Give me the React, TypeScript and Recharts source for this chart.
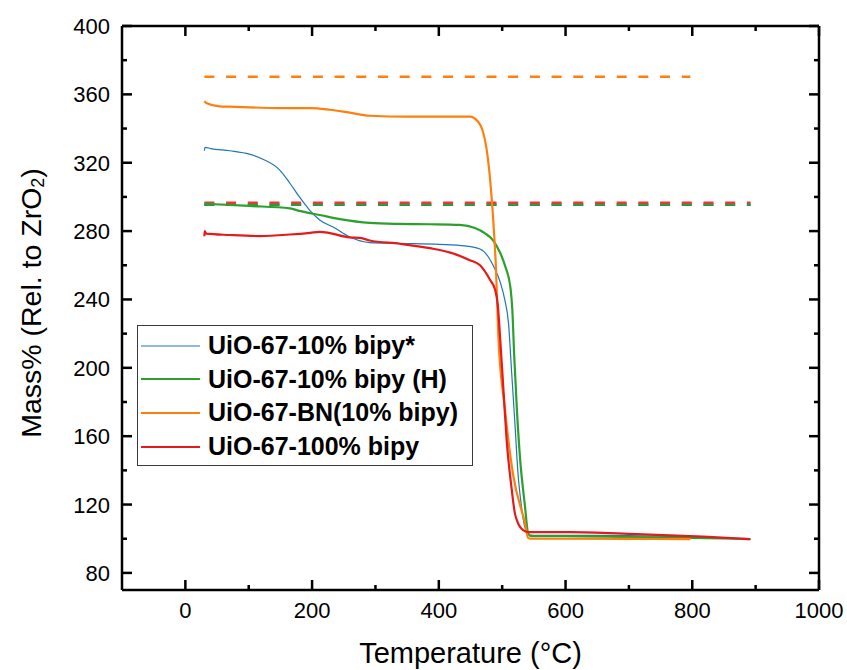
import React from "react"
import { LineChart, Line, XAxis, YAxis, Legend } from "recharts"

// temperature (°C) and mass (% rel. to ZrO2)
const TEMP_BIPY_STAR = [30, 31, 40, 70, 101, 125, 149, 165, 180, 196, 212, 236, 259, 291, 338, 401, 441, 465, 478, 487, 497, 504, 510, 515, 520, 525, 530, 535, 541, 550, 600, 700, 800, 850, 892]
const MASS_BIPY_STAR = [327, 329, 328.3, 327, 325, 321.6, 315.7, 308, 300, 292.3, 286.5, 281.8, 276.7, 273.3, 272.8, 272.2, 271.3, 269.5, 265, 259, 250, 240, 226, 197, 168, 138, 120, 108, 102.5, 102, 102, 101.8, 101, 100.5, 99.8]

const TEMP_BIPY_H = [30, 101, 165, 180, 212, 244, 291, 338, 386, 433, 457, 473, 485, 497, 505, 513, 516, 519, 523, 528, 536, 541, 545, 600, 700, 800, 892]
const MASS_BIPY_H = [296, 294.7, 293.3, 291.8, 289.4, 287, 284.8, 284.2, 284, 283.6, 281.8, 278.7, 274.9, 267.2, 259.2, 247, 234, 207, 177, 148, 119, 103, 101.5, 101.5, 101, 100.5, 99.8]

const TEMP_BN = [30, 33, 54, 70, 149, 197, 228, 259, 291, 350, 449, 462, 469, 475, 481, 487, 490, 494, 504, 517, 536, 541, 545, 600, 700, 797]
const MASS_BN = [356, 355, 353, 352.8, 352, 352, 351, 349.3, 347.5, 347, 347, 344, 339, 329, 310, 280, 260, 218, 177, 138, 109, 100.5, 100, 100, 99.9, 99.8]

const TEMP_BIPY_100 = [30, 30.5, 33, 70, 117, 165, 197, 212, 228, 259, 276, 291, 338, 386, 418, 449, 465, 481, 489, 493, 497, 502, 507, 515, 520, 523, 533, 541, 607, 712, 817, 891]
const MASS_BIPY_100 = [277, 280, 278.5, 277.7, 277.1, 278, 279, 279.6, 278.8, 276.3, 276, 274.5, 272.6, 270, 267.4, 263, 260, 251.4, 245.5, 237, 216, 187, 158, 129, 115, 111, 105, 103.9, 103.9, 102.7, 101.2, 99.8]

// dashed reference levels (ZrO2 residue expected per sample)
const REF_TEMP = [30, 892]
const REF_TEMP_BN = [30, 797]
const REF_BIPY_STAR = [295.2, 295.2]
const REF_BIPY_H = [295.5, 295.5]
const REF_BN = [370.3, 370.3]
const REF_BIPY_100 = [296.6, 296.6]

const SERIES_NAMES = ["UiO-67-10% bipy*", "UiO-67-10% bipy (H)", "UiO-67-BN(10% bipy)", "UiO-67-100% bipy"]

const X_TICKS = [0, 100, 200, 300, 400, 500, 600, 700, 800, 900, 1000]
const Y_TICKS = [80, 100, 120, 140, 160, 180, 200, 220, 240, 260, 280, 300, 320, 340, 360, 380, 400]

const FONT = '"Liberation Sans", Arial, sans-serif'

const toPoints = (t: number[], m: number[]) => t.map((x, i) => ({ t: x, v: m[i] }))

const starData = toPoints(TEMP_BIPY_STAR, MASS_BIPY_STAR)
const hData = toPoints(TEMP_BIPY_H, MASS_BIPY_H)
const bnData = toPoints(TEMP_BN, MASS_BN)
const fullData = toPoints(TEMP_BIPY_100, MASS_BIPY_100)

const starRef = toPoints(REF_TEMP, REF_BIPY_STAR)
const hRef = toPoints(REF_TEMP, REF_BIPY_H)
const bnRef = toPoints(REF_TEMP_BN, REF_BN)
const fullRef = toPoints(REF_TEMP, REF_BIPY_100)

const isMajorX = (v: number) => v % 200 === 0
const isMajorY = (v: number) => v % 40 === 0

function BottomTick(props: any) {
  const { x, y, payload } = props
  const major = isMajorX(payload.value)
  return (
    <g>
      <line x1={x} x2={x} y1={y} y2={y - (major ? 10 : 5)} stroke="#000" strokeWidth={2.5} />
      {major && (
        <text x={x} y={y + 28} textAnchor="middle" fontSize={22} fontFamily={FONT} fill="#000">
          {payload.value}
        </text>
      )}
    </g>
  )
}

function TopTick(props: any) {
  const { x, y, payload } = props
  const major = isMajorX(payload.value)
  return <line x1={x} x2={x} y1={y} y2={y + (major ? 10 : 5)} stroke="#000" strokeWidth={2.5} />
}

function LeftTick(props: any) {
  const { x, y, payload } = props
  const major = isMajorY(payload.value)
  return (
    <g>
      <line x1={x} x2={x + (major ? 10 : 5)} y1={y} y2={y} stroke="#000" strokeWidth={2.5} />
      {major && (
        <text x={x - 12} y={y + 8} textAnchor="end" fontSize={22} fontFamily={FONT} fill="#000">
          {payload.value}
        </text>
      )}
    </g>
  )
}

function RightTick(props: any) {
  const { x, y, payload } = props
  const major = isMajorY(payload.value)
  return <line x1={x} x2={x - (major ? 10 : 5)} y1={y} y2={y} stroke="#000" strokeWidth={2.5} />
}

function XTitle(props: any) {
  const vb = props.viewBox
  return (
    <text x={vb.x + vb.width / 2} y={vb.y + 73} textAnchor="middle" fontSize={29} fontFamily={FONT} fill="#000">
      Temperature (°C)
    </text>
  )
}

function YTitle(props: any) {
  const vb = props.viewBox
  const cx = vb.x + 31
  const cy = vb.y + vb.height / 2 - 5
  return (
    <text
      x={cx}
      y={cy}
      transform={`rotate(-90, ${cx}, ${cy})`}
      textAnchor="middle"
      dominantBaseline="central"
      fontSize={28.5}
      fontFamily={FONT}
      fill="#000"
    >
      Mass% (Rel. to ZrO<tspan fontSize={18} dy={7}>2</tspan>
      <tspan dy={-7}>)</tspan>
    </text>
  )
}

function LegendBox(props: any) {
  const items = (props.payload || [])
    .filter((p: any) => p.type !== "none" && SERIES_NAMES.includes(p.value))
    .sort((a: any, b: any) => SERIES_NAMES.indexOf(a.value) - SERIES_NAMES.indexOf(b.value))
  return (
    <div style={{ border: "1.3px solid #3a3a3a", background: "#fff", width: 334, padding: "3px 0 2px 0" }}>
      {items.map((it: any) => (
        <div key={it.value} style={{ display: "flex", alignItems: "center", height: 33.6 }}>
          <svg width={70} height={10} style={{ display: "block" }}>
            <line x1={3} x2={62} y1={5} y2={5} stroke={it.color} strokeWidth={it.payload?.strokeWidth ?? 2} />
          </svg>
          <span style={{ fontFamily: FONT, fontWeight: "bold", fontSize: 25, color: "#000", whiteSpace: "nowrap" }}>
            {it.value}
          </span>
        </div>
      ))}
    </div>
  )
}

export default function App() {
  return (
    <div style={{ position: "absolute", left: 0, top: 0, width: 847, height: 670, background: "#fff" }}>
      <LineChart width={847} height={670} margin={{ top: 25, right: 27, bottom: 0, left: 0 }}>
        <XAxis
          dataKey="t"
          type="number"
          domain={[-100, 1000]}
          ticks={X_TICKS}
          interval={0}
          allowDataOverflow
          height={80}
          tickSize={0}
          tickMargin={0}
          tickLine={false}
          tick={<BottomTick />}
          axisLine={{ stroke: "#000", strokeWidth: 2.5 }}
          label={(p: any) => <XTitle {...p} />}
        />
        <XAxis
          xAxisId="top"
          orientation="top"
          dataKey="t"
          type="number"
          domain={[-100, 1000]}
          ticks={X_TICKS}
          interval={0}
          allowDataOverflow
          height={1}
          tickSize={0}
          tickMargin={0}
          tickLine={false}
          tick={<TopTick />}
          axisLine={{ stroke: "#000", strokeWidth: 2.5 }}
        />
        <YAxis
          type="number"
          domain={[70, 400]}
          ticks={Y_TICKS}
          interval={0}
          allowDataOverflow
          width={122}
          tickSize={0}
          tickMargin={0}
          tickLine={false}
          tick={<LeftTick />}
          axisLine={{ stroke: "#000", strokeWidth: 2.5 }}
          label={(p: any) => <YTitle {...p} />}
        />
        <YAxis
          yAxisId="right"
          orientation="right"
          type="number"
          domain={[70, 400]}
          ticks={Y_TICKS}
          interval={0}
          allowDataOverflow
          width={1}
          tickSize={0}
          tickMargin={0}
          tickLine={false}
          tick={<RightTick />}
          axisLine={{ stroke: "#000", strokeWidth: 2.5 }}
        />
        <Legend
          layout="vertical"
          align="center"
          verticalAlign="middle"
          wrapperStyle={{ left: 137, top: 325, width: "auto" }}
          content={(p: any) => <LegendBox {...p} />}
        />

        <Line data={starRef} dataKey="v" name="ref-star" legendType="none" stroke="#1f77b4" strokeWidth={2} strokeDasharray="10 11.7" dot={false} isAnimationActive={false} />
        <Line data={hRef} dataKey="v" name="ref-h" legendType="none" stroke="#2ca02c" strokeWidth={2.5} strokeDasharray="10 11.7" dot={false} isAnimationActive={false} />
        <Line data={fullRef} dataKey="v" name="ref-100" legendType="none" stroke="#e8383a" strokeWidth={2.5} strokeDasharray="10 11.7" dot={false} isAnimationActive={false} />
        <Line data={bnRef} dataKey="v" name="ref-bn" legendType="none" stroke="#ff7f0e" strokeWidth={2.5} strokeDasharray="10 11.7" dot={false} isAnimationActive={false} />

        <Line data={starData} dataKey="v" name={SERIES_NAMES[0]} type="monotone" stroke="#1f77b4" strokeWidth={1.2} dot={false} isAnimationActive={false} />
        <Line data={hData} dataKey="v" name={SERIES_NAMES[1]} type="monotone" stroke="#2ca02c" strokeWidth={2.2} dot={false} isAnimationActive={false} />
        <Line data={bnData} dataKey="v" name={SERIES_NAMES[2]} type="monotone" stroke="#ff7f0e" strokeWidth={2.2} dot={false} isAnimationActive={false} />
        <Line data={fullData} dataKey="v" name={SERIES_NAMES[3]} type="monotone" stroke="#e41a1c" strokeWidth={2.2} dot={false} isAnimationActive={false} />
      </LineChart>
    </div>
  )
}
